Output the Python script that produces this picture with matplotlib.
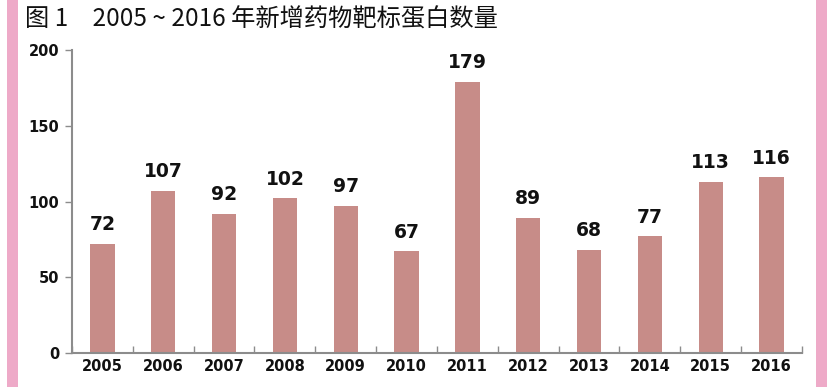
import matplotlib.pyplot as plt
from matplotlib.patches import Rectangle

years = ["2005", "2006", "2007", "2008", "2009", "2010",
         "2011", "2012", "2013", "2014", "2015", "2016"]
counts = [72, 107, 92, 102, 97, 67, 179, 89, 68, 77, 113, 116]

BAR = "#C78C88"
PINK = "#EEAAC8"
AXIS = "#8C8C8C"

fig = plt.figure(figsize=(8.37, 3.87), dpi=100)
fig.patch.set_facecolor("white")

# pink side strips
fig.add_artist(Rectangle((7 / 837, 0), 11 / 837, 1, transform=fig.transFigure,
                         color=PINK, lw=0))
fig.add_artist(Rectangle((816 / 837, 0), 11 / 837, 1, transform=fig.transFigure,
                         color=PINK, lw=0))

fig.text(25 / 837, 1 - 20 / 387, "图 1　2005 ~ 2016 年新增药物靶标蛋白数量",
         fontsize=17.5, family=["Noto Sans CJK SC", "DejaVu Sans"],
         va="center", ha="left", color="#111111")

ax = fig.add_axes([72 / 837, 34 / 387, 730 / 837, 303 / 387])
x = range(len(years))
ax.bar(x, counts, width=0.4, color=BAR, zorder=2)
for xi, v in zip(x, counts):
    ax.annotate(str(v), xy=(xi, v), xytext=(0, 7), textcoords="offset points",
                ha="center", va="bottom", fontsize=13.5, fontweight="bold",
                color="#111111")

ax.set_xlim(-0.5, len(years) - 0.5)
ax.set_ylim(0, 200)
ax.set_yticks([0, 50, 100, 150, 200])
ax.set_xticks(list(x))
ax.set_xticklabels(years)
ax.set_xticks([i + 0.5 for i in range(-1, len(years))], minor=True)

for s in ["top", "right"]:
    ax.spines[s].set_visible(False)
for s in ["left", "bottom"]:
    ax.spines[s].set_color(AXIS)
    ax.spines[s].set_linewidth(1.5)

ax.tick_params(axis="x", which="major", length=0, pad=4,
               labelsize=10.5, colors="#111111")
ax.tick_params(axis="x", which="minor", direction="in", length=5,
               color=AXIS, width=1)
ax.tick_params(axis="y", direction="out", length=5, color=AXIS, width=1,
               labelsize=10.5, labelcolor="#111111", pad=4)
for lab in ax.get_xticklabels() + ax.get_yticklabels():
    lab.set_fontweight("bold")

fig.savefig("out.png", dpi=100, facecolor=fig.get_facecolor())
